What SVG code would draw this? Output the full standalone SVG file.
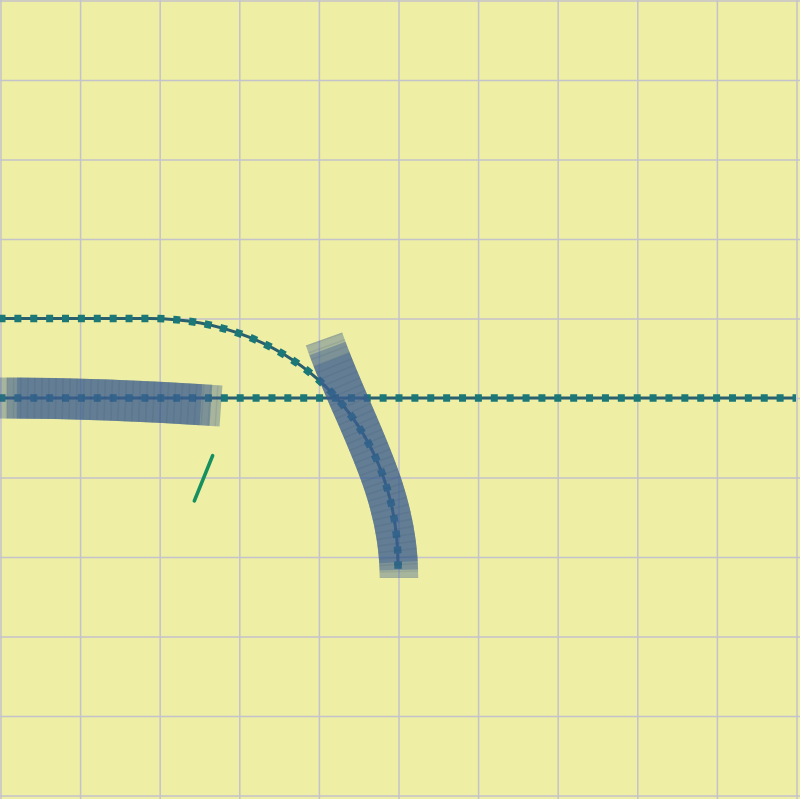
<svg xmlns="http://www.w3.org/2000/svg" width="800" height="799" viewBox="0 0 800 799">
<style>
.grid line{stroke:#c4c2cc;stroke-width:1.5}
.rail{fill:none;stroke:#2a5f6e;stroke-width:3}
.ties{fill:none;stroke:#1b7876;stroke-width:7.5;stroke-dasharray:7 8.88}
.band{fill:none;stroke:#3d6090;stroke-opacity:0.4}
.stripe{fill:none;stroke:#2a4060;stroke-opacity:0.1;stroke-dasharray:1.5 5.5}
.mark{stroke:#179060;stroke-width:3.5;stroke-linecap:round}
</style>
<rect x="0" y="0" width="800" height="799" fill="#eeeea4"/>
<g class="grid">
<line x1="1" y1="0" x2="1" y2="799"/><line x1="80.6" y1="0" x2="80.6" y2="799"/><line x1="160.2" y1="0" x2="160.2" y2="799"/><line x1="239.8" y1="0" x2="239.8" y2="799"/><line x1="319.4" y1="0" x2="319.4" y2="799"/><line x1="399" y1="0" x2="399" y2="799"/><line x1="478.6" y1="0" x2="478.6" y2="799"/><line x1="558.2" y1="0" x2="558.2" y2="799"/><line x1="637.8" y1="0" x2="637.8" y2="799"/><line x1="717.4" y1="0" x2="717.4" y2="799"/><line x1="797" y1="0" x2="797" y2="799"/>
<line x1="0" y1="1" x2="800" y2="1"/><line x1="0" y1="80.5" x2="800" y2="80.5"/><line x1="0" y1="160" x2="800" y2="160"/><line x1="0" y1="239.5" x2="800" y2="239.5"/><line x1="0" y1="319" x2="800" y2="319"/><line x1="0" y1="398.5" x2="800" y2="398.5"/><line x1="0" y1="478" x2="800" y2="478"/><line x1="0" y1="557.5" x2="800" y2="557.5"/><line x1="0" y1="637" x2="800" y2="637"/><line x1="0" y1="716.5" x2="800" y2="716.5"/><line x1="0" y1="796" x2="800" y2="796"/>
</g>
<g id="connectors">
<path class="rail" d="M 0 398 H 796"/>
<path class="ties" d="M -1.5 398 H 796"/>
<path class="rail" d="M 0 318.5 H 150 C 290 318.5 398 420 398 565"/>
<path class="ties" d="M -1.5 318.5 H 150 C 290 318.5 398 420 398 565"/>
<rect x="394.3" y="561.3" width="7.5" height="7.5" fill="#1b7876"/>
</g>
<g id="band1" stroke-width="41">
<path class="band" pathLength="222.3" d="M -1 398 Q 105 398 221 406"/>
<path class="band" pathLength="222.3" stroke-dasharray="0 8 204.3 300" d="M -1 398 Q 105 398 221 406"/>
<path class="band" pathLength="222.3" stroke-dasharray="0 18 184.3 300" d="M -1 398 Q 105 398 221 406"/>
<path class="stripe" stroke-width="41" d="M -1 398 Q 105 398 221 406"/>
</g>
<g id="band2" stroke-width="38.5">
<path class="band" pathLength="253" d="M 324 339 C 353.7 423.6 399 488 399 578"/>
<path class="band" pathLength="253" stroke-dasharray="0 10 235 300" d="M 324 339 C 353.7 423.6 399 488 399 578"/>
<path class="band" pathLength="253" stroke-dasharray="0 22 215 300" d="M 324 339 C 353.7 423.6 399 488 399 578"/>
<path class="stripe" d="M 324 339 C 353.7 423.6 399 488 399 578"/>
</g>
<g id="marker">
<line class="mark" x1="212.7" y1="455.5" x2="194.3" y2="501"/>
</g>
</svg>
